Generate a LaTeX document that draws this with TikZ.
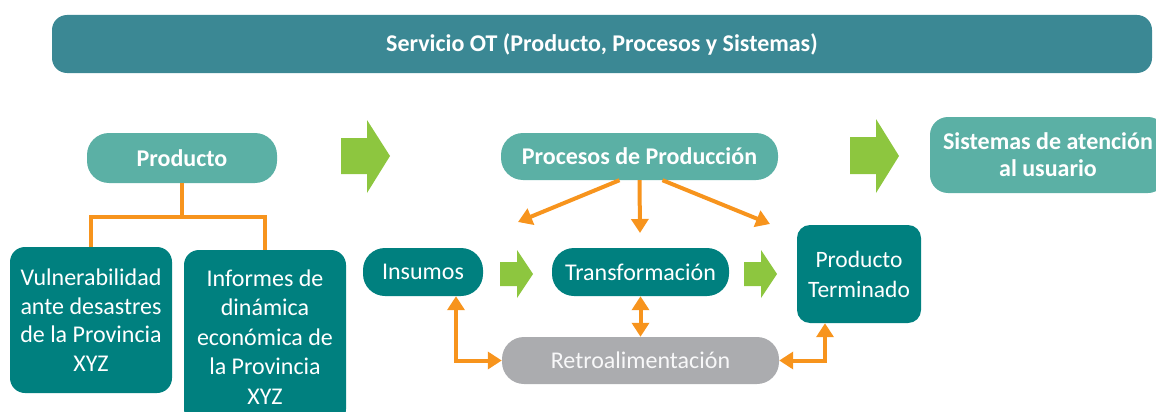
\documentclass[tikz,border=0pt]{standalone}
\usepackage{fontspec}
\setmainfont{Carlito}
\usetikzlibrary{arrows.meta}
\definecolor{banner}{HTML}{3B8894}
\definecolor{lightteal}{HTML}{5BB0A5}
\definecolor{darkteal}{HTML}{00807F}
\definecolor{retrogray}{HTML}{ABACAF}
\definecolor{conn}{HTML}{F7941D}
\definecolor{garr}{HTML}{8DC63F}
\tikzset{
  headbox/.style={fill=lightteal, rounded corners=22pt, text=white, font=\fontsize{24}{27}\selectfont\bfseries, inner sep=0pt, align=center},
  darkbox/.style={fill=darkteal, rounded corners=15pt, text=white, font=\fontsize{24}{30}\selectfont, inner sep=0pt, align=center},
  pill/.style={fill=darkteal, rounded corners=22pt, text=white, font=\fontsize{24}{27}\selectfont, inner sep=0pt},
  link/.style={draw=conn, line width=4pt},
  tip/.style={link, -{Triangle[width=17pt,length=14pt]}},
  dtip/.style={link, {Triangle[width=17pt,length=14pt]}-{Triangle[width=17pt,length=14pt]}},
  greenarrow/.style={fill=garr}
}
\begin{document}
\begin{tikzpicture}[x=1pt,y=-1pt]
\useasboundingbox (0,0) rectangle (1156,412);
% banner
\node[fill=banner, rounded corners=15pt, minimum width=1100pt, minimum height=58pt, text=white, font=\fontsize{24}{28}\selectfont\bfseries, inner sep=0pt] (banner) at (602,44) {Servicio OT (Producto, Procesos y Sistemas)};
% Producto branch
\node[headbox, minimum width=190pt, minimum height=50pt] (prod) at (182,158) {Producto};
\node[darkbox, minimum width=162pt, minimum height=146pt, font=\fontsize{24}{28.5}\selectfont] (vul) at (91,320) {Vulnerabilidad\\ante desastres\\de la Provincia\\XYZ};
\node[darkbox, minimum width=162pt, minimum height=174pt, font=\fontsize{24}{29.5}\selectfont] (inf) at (265,337) {Informes de\\dinámica\\económica de\\la Provincia\\XYZ};
\draw[link] (prod.south) -- ++(0,34) coordinate (pj);
\draw[link] (vul.north) |- (pj) -| (inf.north);
% green arrow 1
\fill[greenarrow] (341,138) -- (367,138) -- (367,120) -- (390,156) -- (367,193) -- (367,174) -- (341,174) -- cycle;
% Processes
\node[headbox, minimum width=277pt, minimum height=47pt] (proc) at (639.5,156.5) {Procesos de Producción};
\node[pill, minimum width=120pt, minimum height=48pt] (ins) at (423,272) {Insumos};
\node[pill, minimum width=177pt, minimum height=48pt] (trans) at (640.5,272) {Transformación};
\node[darkbox, rounded corners=13pt, minimum width=124pt, minimum height=98pt, font=\fontsize{23.5}{30}\selectfont] (pt) at (859,274) {Producto\\Terminado};
\node[fill=retrogray, rounded corners=22pt, minimum width=277pt, minimum height=47pt, inner sep=0pt, text=white!92!retrogray, font=\fontsize{24}{27}\selectfont] (retro) at (640.5,360.5) {Retroalimentación};
\coordinate (pl) at (518,222);
\coordinate (pm) at (640,233);
\coordinate (pr) at (770,224);
\draw[tip] ([xshift=-20pt]proc.south) -- (pl);
\draw[tip] (proc.south) -- (pm);
\draw[tip] ([xshift=23pt]proc.south) -- (pr);
\draw[dtip] (trans.south) -- (retro.north);
\draw[dtip] ([xshift=33pt]ins.south) |- (retro.west);
\draw[dtip] (retro.east) -| ([xshift=-34pt]pt.south);
% small green arrows
\fill[greenarrow] (500,262) -- (517,262) -- (517,250) -- (533,274) -- (517,298) -- (517,286) -- (500,286) -- cycle;
\fill[greenarrow] (744,262) -- (761,262) -- (761,250) -- (777,274) -- (761,298) -- (761,286) -- (744,286) -- cycle;
% green arrow 3
\fill[greenarrow] (850,137) -- (876,137) -- (876,119) -- (899,156) -- (876,193) -- (876,174) -- (850,174) -- cycle;
% Sistemas
\node[headbox, rounded corners=18pt, minimum width=236pt, minimum height=76pt] (sis) at (1048,155) {Sistemas de atención\\al usuario};
\end{tikzpicture}
\end{document}
